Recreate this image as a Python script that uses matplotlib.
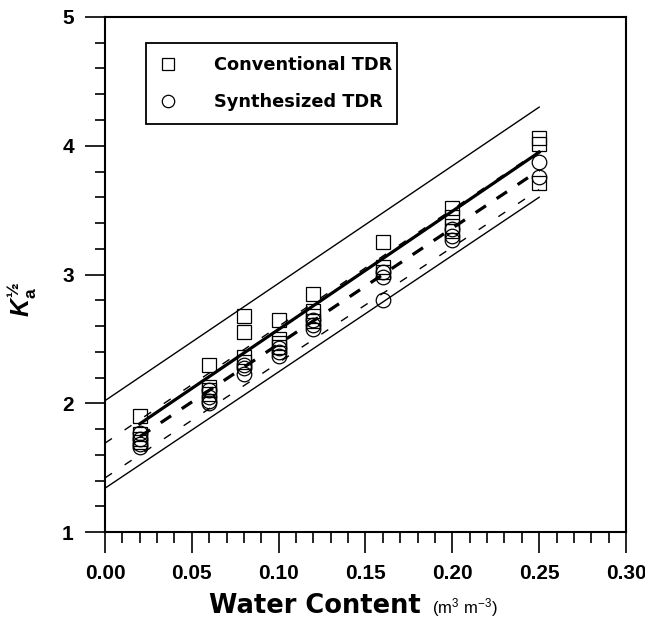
import matplotlib
matplotlib.use("Agg")
import matplotlib.pyplot as plt
from matplotlib.ticker import MultipleLocator, FormatStrFormatter

plt.rcParams["font.family"] = ["Liberation Sans", "DejaVu Sans"]
plt.rcParams["mathtext.fontset"] = "custom"
plt.rcParams["mathtext.rm"] = "Liberation Sans"
plt.rcParams["mathtext.it"] = "Liberation Sans:italic:bold"
plt.rcParams["mathtext.bf"] = "Liberation Sans:bold"

# ---- data ----
conv_x = [0.02, 0.02, 0.02, 0.02,
          0.06, 0.06, 0.06, 0.06,
          0.08, 0.08, 0.08, 0.08,
          0.10, 0.10, 0.10, 0.10,
          0.12, 0.12, 0.12, 0.12,
          0.16, 0.16, 0.16,
          0.20, 0.20, 0.20, 0.20,
          0.25, 0.25, 0.25]
conv_k = [1.90, 1.76, 1.72, 1.70,
          2.30, 2.13, 2.10, 2.07,
          2.68, 2.55, 2.36, 2.32,
          2.65, 2.50, 2.47, 2.44,
          2.85, 2.72, 2.68, 2.64,
          3.25, 3.06, 3.02,
          3.52, 3.45, 3.38, 3.34,
          4.06, 4.01, 3.71]

syn_x = [0.02, 0.02, 0.02, 0.02,
         0.06, 0.06, 0.06, 0.06,
         0.08, 0.08, 0.08,
         0.10, 0.10, 0.10,
         0.12, 0.12, 0.12,
         0.16, 0.16, 0.16,
         0.20, 0.20, 0.20,
         0.25, 0.25]
syn_k = [1.77, 1.72, 1.68, 1.66,
         2.10, 2.05, 2.02, 2.00,
         2.30, 2.27, 2.23,
         2.43, 2.40, 2.37,
         2.65, 2.61, 2.58,
         3.02, 2.98, 2.80,
         3.35, 3.30, 3.27,
         3.87, 3.76]

fit_x = [0.02, 0.25]
band_x = [0.00, 0.25]
conv_fit = [1.84, 3.95]
conv_upper = [2.02, 4.30]
conv_lower = [1.34, 3.60]
syn_fit = [1.74, 3.81]
syn_upper = [1.69, 3.96]
syn_lower = [1.42, 3.66]

x_ticks = [0.00, 0.05, 0.10, 0.15, 0.20, 0.25, 0.30]
y_ticks = [1, 2, 3, 4, 5]

# ---- figure ----
fig = plt.figure(figsize=(6.45, 6.20), dpi=100)
ax = fig.add_axes([105 / 645, 1 - 532 / 620, 521 / 645, 515 / 620])

ax.plot(band_x, conv_upper, color="black", lw=1.0, zorder=2)
ax.plot(band_x, conv_lower, color="black", lw=1.0, zorder=2)
ax.plot(fit_x, conv_fit, color="black", lw=2.3, zorder=2)
ax.plot(band_x, syn_upper, color="black", lw=1.0, dashes=(6, 11), zorder=2)
ax.plot(band_x, syn_lower, color="black", lw=1.0, dashes=(6, 11), zorder=2)
ax.plot(fit_x, syn_fit, color="black", lw=2.3, dashes=(3.9, 4.0), zorder=2)

ax.plot(conv_x, conv_k, linestyle="none", marker="s", ms=9.8, mfc="none",
        mec="black", mew=0.9, label="Conventional TDR", zorder=3)
ax.plot(syn_x, syn_k, linestyle="none", marker="o", ms=10.5, mfc="none",
        mec="black", mew=0.9, label="Synthesized TDR", zorder=3)

ax.set_xlim(0, 0.30)
ax.set_ylim(1, 5)
ax.set_xticks(x_ticks)
ax.set_yticks(y_ticks)
ax.xaxis.set_minor_locator(MultipleLocator(0.01))
ax.yaxis.set_minor_locator(MultipleLocator(0.2))
ax.xaxis.set_major_formatter(FormatStrFormatter("%.2f"))

for s in ax.spines.values():
    s.set_linewidth(1.5)
ax.tick_params(axis="both", which="both", direction="out", width=1.2,
               top=False, right=False)
ax.tick_params(axis="x", which="major", length=15, pad=8)
ax.tick_params(axis="x", which="minor", length=8)
ax.tick_params(axis="y", which="major", length=14.5, pad=8)
ax.tick_params(axis="y", which="minor", length=7.5)
for lab in ax.get_xticklabels() + ax.get_yticklabels():
    lab.set_fontsize(15)
    lab.set_fontweight("bold")

leg = ax.legend(loc="upper left",
                bbox_to_anchor=(41 / 521, 1 - 111 / 515, 251 / 521, 85 / 515),
                mode="expand", borderaxespad=0, frameon=True, fancybox=False,
                edgecolor="black", framealpha=1, markerscale=0.85,
                handlelength=1.0, handletextpad=2.1, borderpad=0.75,
                labelspacing=1.05,
                prop={"family": "DejaVu Sans", "weight": "bold", "size": 12.8})
leg.get_frame().set_linewidth(1.3)

fig.text(209 / 645, 1 - 613 / 620, "Water Content", fontsize=18.5,
         fontweight="bold", family="DejaVu Sans", ha="left", va="baseline")
fig.text(432 / 645, 1 - 613 / 620, r"$(\mathrm{m}^{3}\ \mathrm{m}^{-3})$",
         fontsize=12, ha="left", va="baseline")
fig.text(22 / 645, 1 - 299 / 620, r"$\mathit{K}_{\mathbf{a}}^{\mathbf{½}}$",
         fontsize=18, rotation=90, ha="center", va="center")

fig.savefig("out.png", dpi=100)
